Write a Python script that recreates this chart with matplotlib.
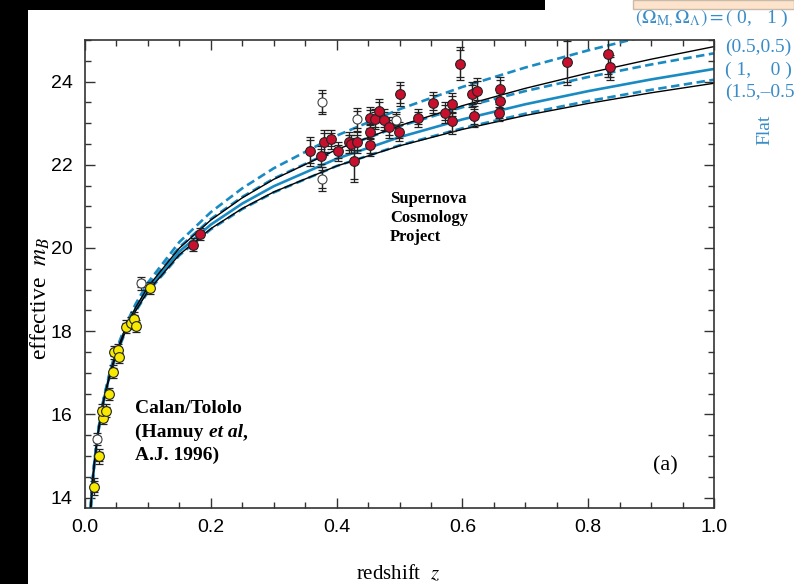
import numpy as np
import matplotlib.pyplot as plt
from matplotlib.patches import Rectangle
from matplotlib.ticker import MultipleLocator

plt.rcParams['mathtext.fontset'] = 'stix'
SERIF = ['Liberation Serif', 'DejaVu Serif']
SANS = ['Liberation Sans', 'DejaVu Sans']
BLUE = '#1a8bc2'
LABEL_BLUE = '#3a8cc8'

# Calan/Tololo low-redshift supernovae (yellow)
cc_z = [0.0148, 0.0223, 0.028, 0.0276, 0.033, 0.038, 0.0445, 0.046, 0.052,
        0.0546, 0.065, 0.0726, 0.078, 0.0816, 0.103]
cc_m = [14.26, 14.99, 15.92, 16.09, 16.09, 16.49, 17.03, 17.49, 17.55,
        17.39, 18.11, 18.20, 18.30, 18.13, 19.04]
cc_err = [0.20, 0.18, 0.15, 0.15, 0.15, 0.15, 0.15, 0.15, 0.15,
          0.15, 0.15, 0.15, 0.15, 0.15, 0.15]

# Supernova Cosmology Project (red)
scp_z = [0.172, 0.183, 0.358, 0.375, 0.380, 0.391, 0.403, 0.419, 0.423, 0.433,
         0.428, 0.453, 0.453, 0.453, 0.461, 0.468, 0.475, 0.483, 0.499, 0.501,
         0.529, 0.554, 0.573, 0.583, 0.584, 0.596, 0.615, 0.623, 0.618, 0.660,
         0.660, 0.658, 0.766, 0.832, 0.834]
scp_m = [20.08, 20.34, 22.32, 22.20, 22.54, 22.61, 22.32, 22.54, 22.50, 22.54,
         22.08, 23.13, 22.80, 22.47, 23.10, 23.30, 23.08, 22.90, 22.80, 23.70,
         23.12, 23.49, 23.25, 23.45, 23.05, 24.43, 23.69, 23.78, 23.17, 23.82,
         23.54, 23.25, 24.48, 24.66, 24.35]
scp_err = [0.15, 0.15, 0.35, 0.25, 0.30, 0.22, 0.22, 0.25, 0.22, 0.25,
           0.50, 0.25, 0.25, 0.25, 0.25, 0.28, 0.25, 0.25, 0.22, 0.28,
           0.22, 0.25, 0.25, 0.28, 0.30, 0.40, 0.30, 0.30, 0.25, 0.28,
           0.25, 0.20, 0.57, 0.55, 0.30]

# excluded supernovae (open circles)
open_z = [0.0196, 0.089, 0.377, 0.377, 0.433, 0.494]
open_m = [15.41, 19.15, 23.50, 21.66, 23.09, 23.08]
open_err = [0.15, 0.15, 0.29, 0.29, 0.28, 0.20]

# model curves (Omega_M, Omega_Lambda)
model_z = [0.009, 0.0125, 0.015, 0.02, 0.025, 0.03, 0.04, 0.05, 0.065, 0.08, 0.1,
           0.15, 0.2, 0.25, 0.3, 0.4, 0.5, 0.6, 0.7, 0.8, 0.9, 1.0]
m_0_1 = [13.751, 14.471, 14.872, 15.508, 16.004, 16.410, 17.055, 17.561, 18.162, 18.642, 19.167,
         20.144, 20.861, 21.435, 21.916, 22.701, 23.336, 23.872, 24.338, 24.751, 25.125, 25.465]
m_0_0 = [13.741, 14.458, 14.856, 15.487, 15.977, 16.378, 17.013, 17.509, 18.095, 18.560, 19.066,
         19.997, 20.672, 21.206, 21.650, 22.366, 22.940, 23.421, 23.838, 24.206, 24.538, 24.841]
m_05_05 = [13.743, 14.461, 14.860, 15.492, 15.983, 16.386, 17.023, 17.520, 18.109, 18.577, 19.085,
           20.020, 20.696, 21.228, 21.668, 22.372, 22.926, 23.383, 23.773, 24.111, 24.411, 24.680]
m_1_0 = [13.736, 14.451, 14.848, 15.476, 15.963, 16.362, 16.991, 17.482, 18.059, 18.517, 19.011,
         19.915, 20.562, 21.068, 21.484, 22.145, 22.664, 23.091, 23.455, 23.771, 24.052, 24.304]
m_15_m05 = [13.729, 14.441, 14.836, 15.460, 15.944, 16.339, 16.961, 17.444, 18.012, 18.461, 18.944,
            19.823, 20.448, 20.936, 21.335, 21.970, 22.468, 22.878, 23.228, 23.532, 23.802, 24.046]
m_2_0 = [13.731, 14.444, 14.840, 15.465, 15.950, 16.346, 16.970, 17.455, 18.025, 18.475, 18.960,
         19.840, 20.465, 20.950, 21.346, 21.970, 22.455, 22.851, 23.186, 23.475, 23.731, 23.960]

fig = plt.figure(figsize=(7.94, 5.84), dpi=100)

# slide frame pieces around the figure
fig.patches.append(Rectangle((0, 0), 28 / 794, 1, transform=fig.transFigure,
                             facecolor='black', edgecolor='none', zorder=0))
fig.patches.append(Rectangle((0, 1 - 10 / 584), 545 / 794, 10 / 584, transform=fig.transFigure,
                             facecolor='black', edgecolor='none', zorder=0))
fig.patches.append(Rectangle((633 / 794, 1 - 9 / 584), 161 / 794, 9 / 584, transform=fig.transFigure,
                             facecolor='#fde3cc', edgecolor='#c9bba9', lw=1, zorder=0))

ax = fig.add_axes([85 / 794, 1 - 508 / 584, 629 / 794, 468 / 584])

dash = (0, (3.2, 1.7))
ax.plot(model_z, m_0_1, color=BLUE, lw=1.9, ls=dash, zorder=2)
ax.plot(model_z, m_05_05, color=BLUE, lw=1.9, ls=dash, zorder=2)
ax.plot(model_z, m_15_m05, color=BLUE, lw=1.9, ls=dash, zorder=2)
ax.plot(model_z, m_1_0, color=BLUE, lw=1.9, zorder=2)
ax.plot(model_z, m_0_0, color='black', lw=1.0, zorder=2)
ax.plot(model_z, m_2_0, color='black', lw=1.0, zorder=2)

# error bars, drawn with a second (inner) pair of caps like the original
eb = dict(fmt='none', ecolor='#222222', elinewidth=0.9, capsize=3.2, capthick=0.9, zorder=3)
cap_gap = 0.07
for z, m, e in [(cc_z, cc_m, cc_err), (scp_z, scp_m, scp_err), (open_z, open_m, open_err)]:
    ax.errorbar(z, m, yerr=e, **eb)
    ax.errorbar(z, m, yerr=np.array(e) - cap_gap, **eb)

ax.plot(open_z, open_m, 'o', ms=6.5, mfc='white', mec='#444444', mew=0.8, zorder=4)
ax.plot(cc_z, cc_m, 'o', ms=7, mfc='#f7ea00', mec='#222222', mew=0.8, zorder=4)
ax.plot(scp_z, scp_m, 'o', ms=7, mfc='#c8102e', mec='#222222', mew=0.8, zorder=4)

ax.set_xlim(0, 1.0)
ax.set_ylim(13.75, 25)
ax.set_xticks([0.0, 0.2, 0.4, 0.6, 0.8, 1.0])
ax.set_xticklabels(['0.0', '0.2', '0.4', '0.6', '0.8', '1.0'])
ax.set_yticks([14, 16, 18, 20, 22, 24])
ax.xaxis.set_minor_locator(MultipleLocator(0.05))
ax.yaxis.set_minor_locator(MultipleLocator(0.5))
ax.tick_params(which='both', direction='in', top=True, right=True, color='#333333', width=1)
ax.tick_params(which='major', length=7)
ax.tick_params(which='minor', length=4)
ax.tick_params(axis='x', pad=8, labelsize=14)
ax.tick_params(axis='y', pad=9, labelsize=14)
for lab in ax.get_xticklabels() + ax.get_yticklabels():
    lab.set_family(SANS)
for sp in ax.spines.values():
    sp.set_color('#333333')
    sp.set_linewidth(1.2)

# annotations inside the plot
ax.text(0.485, 21.38, 'Supernova\nCosmology\nProject', family=SERIF, weight='bold',
        fontsize=12, va='top', ha='left', linespacing=1.25)
ax.text(0.08, 16.14, 'Calan/Tololo', family=SERIF, weight='bold', fontsize=14, va='center')
t = ax.text(0.08, 15.56, '(Hamuy ', family=SERIF, weight='bold', fontsize=14, va='center')
t2 = ax.annotate('et al', xy=(1, 0), xycoords=t, family=SERIF, weight='bold',
                 style='italic', fontsize=14, va='bottom', ha='left')
ax.annotate(',', xy=(1, 0), xycoords=t2, family=SERIF, weight='bold',
            fontsize=14, va='bottom', ha='left')
ax.text(0.08, 15.01, 'A.J. 1996)', family=SERIF, weight='bold', fontsize=14, va='center')
ax.text(0.922, 14.77, '(a)', family=SERIF, fontsize=16, ha='center', va='center')

# model labels to the right
fig.text(635 / 794, 1 - 19 / 584, r'$(\Omega_{\mathrm{M},}\Omega_{\Lambda}) = ($ 0,   1 )',
         family=SERIF, fontsize=14, color=LABEL_BLUE, va='center', ha='left')
fig.text(725 / 794, 1 - 47 / 584, '(0.5,0.5)', family=SERIF, fontsize=14,
         color=LABEL_BLUE, va='center', ha='left')
fig.text(725 / 794, 1 - 70 / 584, '( 1,    0 )', family=SERIF, fontsize=14,
         color=LABEL_BLUE, va='center', ha='left')
fig.text(725 / 794, 1 - 92 / 584, '(1.5,\u20130.5', family=SERIF, fontsize=14,
         color=LABEL_BLUE, va='center', ha='left')
fig.text(765 / 794, 1 - 130 / 584, 'Flat', family=SERIF, fontsize=14, rotation=90,
         color=LABEL_BLUE, va='center', ha='center')

# axis labels
fig.text(398 / 794, 1 - 574 / 584, r'redshift  $z$', family=SERIF, fontsize=15,
         ha='center', va='center')
fig.text(40 / 794, 1 - 298 / 584, r'effective  $m_B$', family=SERIF, fontsize=17,
         rotation=90, ha='center', va='center')

fig.savefig('out.png', dpi=100)
